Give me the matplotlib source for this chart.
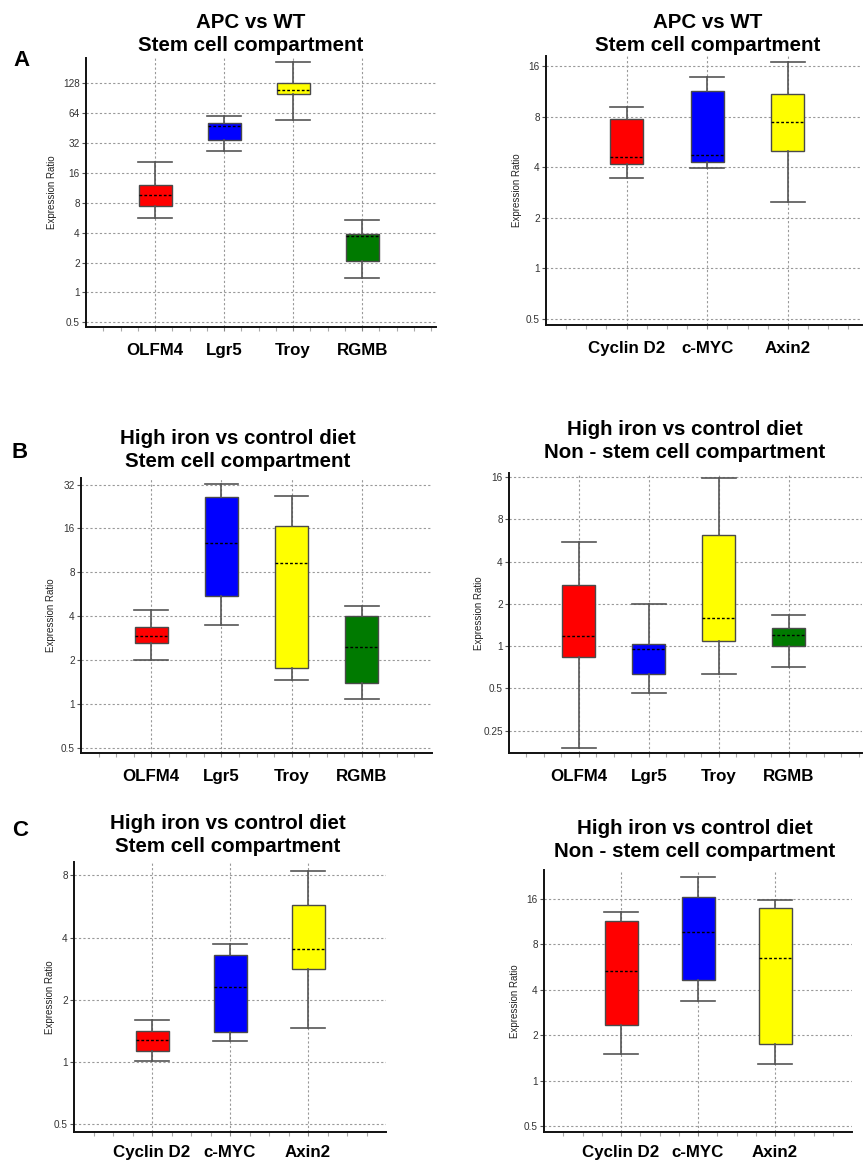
import matplotlib
matplotlib.use("Agg")
import matplotlib.pyplot as plt
import numpy as np

plt.rcParams['font.family'] = ['Liberation Sans', 'DejaVu Sans']

# ---------------- data ----------------
genes_4 = ["OLFM4", "Lgr5", "Troy", "RGMB"]
genes_3 = ["Cyclin D2", "c-MYC", "Axin2"]
colors_4 = ["#FF0000", "#0000FF", "#FFFF00", "#007A00"]
colors_3 = ["#FF0000", "#0000FF", "#FFFF00"]

# Panel A left (APC vs WT, stem cell, markers)
a1_whislo = [5.65, 26.5, 55.2, 1.40]
a1_q1 = [7.5, 34.2, 100.8, 2.09]
a1_med = [9.55, 47.2, 109.0, 3.7]
a1_q3 = [12.1, 51.0, 128.0, 3.92]
a1_whishi = [20.5, 60.5, 210.0, 5.39]
a1_ticks = [0.5, 1, 2, 4, 8, 16, 32, 64, 128]
a1_ticklabels = ["0.5", "1", "2", "4", "8", "16", "32", "64", "128"]

# Panel A right (APC vs WT, stem cell, Wnt targets)
a2_whislo = [3.46, 3.93, 2.48]
a2_q1 = [4.17, 4.27, 4.99]
a2_med = [4.61, 4.70, 7.39]
a2_q3 = [7.73, 11.4, 10.85]
a2_whishi = [9.16, 13.8, 16.8]
a2_ticks = [0.5, 1, 2, 4, 8, 16]
a2_ticklabels = ["0.5", "1", "2", "4", "8", "16"]

# Panel B left (high iron, stem cell)
b1_whislo = [2.0, 3.49, 1.47, 1.09]
b1_q1 = [2.64, 5.49, 1.77, 1.40]
b1_med = [2.95, 12.67, 9.34, 2.46]
b1_q3 = [3.40, 26.2, 16.6, 4.02]
b1_whishi = [4.45, 32.3, 26.6, 4.69]
b1_ticks = [0.5, 1, 2, 4, 8, 16, 32]
b1_ticklabels = ["0.5", "1", "2", "4", "8", "16", "32"]

# Panel B right (high iron, non-stem cell)
b2_whislo = [0.188, 0.463, 0.636, 0.71]
b2_q1 = [0.836, 0.629, 1.09, 1.0]
b2_med = [1.17, 0.953, 1.58, 1.19]
b2_q3 = [2.71, 1.03, 6.18, 1.35]
b2_whishi = [5.48, 2.0, 15.65, 1.66]
b2_ticks = [0.25, 0.5, 1, 2, 4, 8, 16]
b2_ticklabels = ["0.25", "0.5", "1", "2", "4", "8", "16"]

# Panel C left (high iron, stem cell, Wnt targets)
c1_whislo = [1.01, 1.26, 1.46]
c1_q1 = [1.13, 1.40, 2.83]
c1_med = [1.28, 2.32, 3.52]
c1_q3 = [1.42, 3.29, 5.77]
c1_whishi = [1.60, 3.72, 8.39]
c1_ticks = [0.5, 1, 2, 4, 8]
c1_ticklabels = ["0.5", "1", "2", "4", "8"]

# Panel C right (high iron, non-stem cell, Wnt targets)
c2_whislo = [1.50, 3.37, 1.29]
c2_q1 = [2.34, 4.64, 1.75]
c2_med = [5.37, 9.63, 6.52]
c2_q3 = [11.5, 16.6, 13.9]
c2_whishi = [13.2, 22.5, 15.7]
c2_ticks = [0.5, 1, 2, 4, 8, 16]
c2_ticklabels = ["0.5", "1", "2", "4", "8", "16"]

title_a = "APC vs WT\nStem cell compartment"
title_stem = "High iron vs control diet\nStem cell compartment"
title_nonstem = "High iron vs control diet\nNon - stem cell compartment"

# ---------------- layout ----------------
W, H = 864, 1164
fig = plt.figure(figsize=(W / 100, H / 100), dpi=100)


def make_axes(l, r, t, b):
    return fig.add_axes([l / W, 1 - b / H, (r - l) / W, (b - t) / H])


def panel(box, genes, colors, whislo, q1, med, q3, whishi, ticks, ticklabels,
          ylog, xmax, title, title_xy, ylabel_off, xpad=8.5):
    l, r, t, b = box
    ax = make_axes(l, r, t, b)
    n = len(genes)
    pos = np.arange(1, n + 1)
    spacing_px = (r - l) / xmax
    width = 33.0 / spacing_px
    stats = []
    for i in range(n):
        stats.append(dict(med=med[i], q1=q1[i], q3=q3[i],
                          whislo=whislo[i], whishi=whishi[i], fliers=[]))
    bp = ax.bxp(stats, positions=pos, widths=width, capwidths=width * 1.02,
                patch_artist=True, showfliers=False,
                boxprops=dict(edgecolor="#4a4a4a", linewidth=1.0),
                whiskerprops=dict(color="#555555", linewidth=1.2),
                capprops=dict(color="#555555", linewidth=1.2),
                medianprops=dict(color="black", linewidth=1.0,
                                 linestyle=(0, (2.0, 1.5))))
    for patch, c in zip(bp["boxes"], colors):
        patch.set_facecolor(c)
    for art in bp["boxes"] + bp["whiskers"] + bp["caps"]:
        art.set_zorder(3)
    for m in bp["medians"]:
        m.set_zorder(4)

    ax.set_yscale("log", base=2)
    ax.set_ylim(2 ** ylog[0], 2 ** ylog[1])
    ax.set_yticks(ticks)
    ax.set_yticklabels(ticklabels)
    ax.yaxis.set_minor_locator(matplotlib.ticker.NullLocator())
    ax.set_xlim(0, xmax)
    ax.set_xticks(pos)
    ax.set_xticklabels(genes, fontsize=12.2, fontweight="bold")
    ax.set_xticks(np.arange(0.25, xmax, 0.25), minor=True)
    ax.tick_params(axis="x", which="major", length=3, width=0.8,
                   color="#888888", pad=xpad)
    ax.tick_params(axis="x", which="minor", length=3, width=0.8,
                   color="#aaaaaa")
    ax.tick_params(axis="y", which="major", length=3, width=0.8,
                   color="#555555", labelsize=7.2, labelcolor="#333333",
                   pad=1.5)
    ax.grid(True, which="major", axis="both", color="#999999",
            linestyle=(0, (2.0, 2.0)), linewidth=0.8, zorder=0)
    ax.set_axisbelow(True)
    for s in ("top", "right"):
        ax.spines[s].set_visible(False)
    for s in ("left", "bottom"):
        ax.spines[s].set_linewidth(1.4)
        ax.spines[s].set_color("#111111")
    ax.set_ylabel("Expression Ratio", fontsize=7.0, color="#222222")
    ax.yaxis.set_label_coords(-ylabel_off / (r - l), 0.5)
    fig.text(title_xy[0] / W, 1 - title_xy[1] / H, title, ha="center",
             va="center", fontsize=14.8, fontweight="bold", linespacing=1.33)
    return ax


panel((86, 436, 58, 327), genes_4, colors_4, a1_whislo, a1_q1, a1_med, a1_q3,
      a1_whishi, a1_ticks, a1_ticklabels, (-1.16, 7.85), 5.07, title_a,
      (251, 34), 29)
panel((546, 862, 56, 325), genes_3, colors_3, a2_whislo, a2_q1, a2_med, a2_q3,
      a2_whishi, a2_ticks, a2_ticklabels, (-1.125, 4.198), 3.92, title_a,
      (708, 34), 24)
panel((81, 432, 478, 753), genes_4, colors_4, b1_whislo, b1_q1, b1_med, b1_q3,
      b1_whishi, b1_ticks, b1_ticklabels, (-1.114, 5.15), 5.0, title_stem,
      (238, 450), 25)
panel((509, 862, 473, 753), genes_4, colors_4, b2_whislo, b2_q1, b2_med, b2_q3,
      b2_whishi, b2_ticks, b2_ticklabels, (-2.53, 4.095), 5.05, title_nonstem,
      (685, 441), 25.5)
panel((74, 386, 862, 1132), genes_3, colors_3, c1_whislo, c1_q1, c1_med, c1_q3,
      c1_whishi, c1_ticks, c1_ticklabels, (-1.123, 3.214), 4.0, title_stem,
      (228, 835), 19, xpad=6.5)
panel((544, 852, 870, 1132), genes_3, colors_3, c2_whislo, c2_q1, c2_med,
      c2_q3, c2_whishi, c2_ticks, c2_ticklabels, (-1.124, 4.637), 4.0,
      title_nonstem, (695, 840), 24, xpad=6.5)

for letter, (x, y) in zip(["A", "B", "C"], [(21, 61), (19.5, 453), (20.5, 830)]):
    fig.text(x / W, 1 - y / H, letter, ha="center", va="center",
             fontsize=16, fontweight="bold")

fig.savefig("out.png", dpi=100)
